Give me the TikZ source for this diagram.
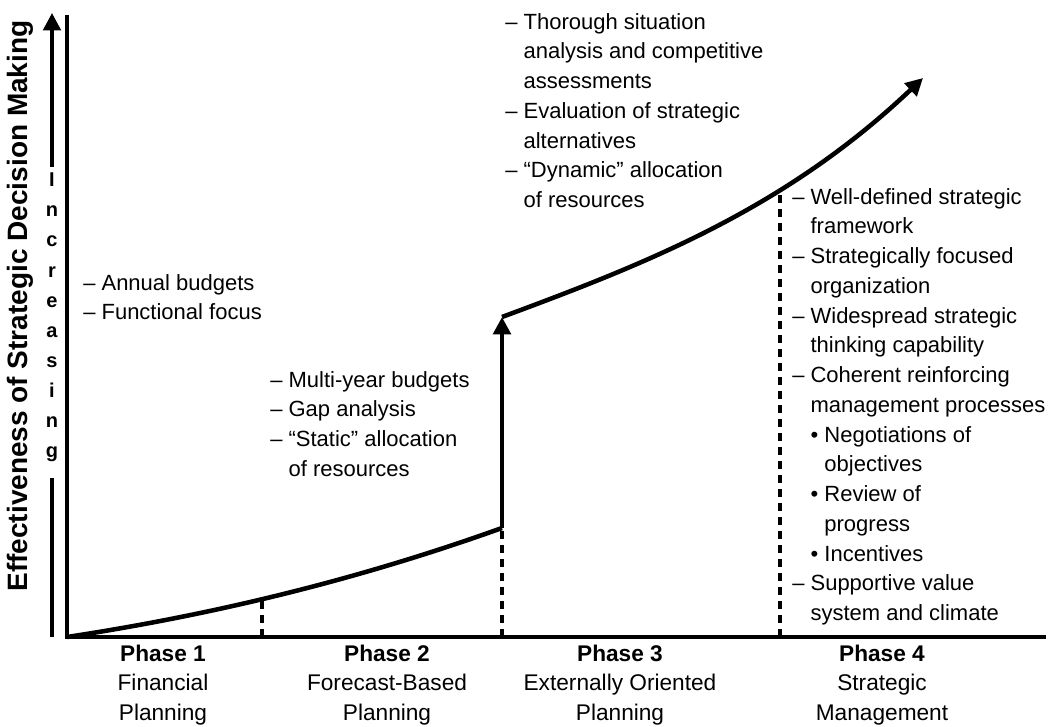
\documentclass[tikz,border=0pt]{standalone}
\usepackage{fontspec}
\setmainfont{Liberation Sans}
\usetikzlibrary{arrows.meta}
\tikzset{
  axis/.style={line width=2.8pt},
  growth/.style={line width=3.4pt},
  phaseline/.style={line width=2.5pt, dash pattern=on 6pt off 4.5pt},
  items/.style={anchor=north west, inner sep=0pt, align=left, font=\fontsize{16.5}{22.3}\selectfont},
  phase/.style={align=center, inner sep=0pt, font=\fontsize{17}{22.3}\selectfont},
  incr/.style={anchor=base, inner sep=0pt, font=\fontsize{15}{15}\selectfont\bfseries},
  bigtip/.style={-{Triangle[width=13pt,length=13pt]}},
}
\begin{document}
\begin{tikzpicture}[x=0.75pt,y=-0.75pt]
    \useasboundingbox (0,0) rectangle (1049,727);
    % axes
    \coordinate (o) at (67,637);
    \coordinate (ytop) at (67,15);
    \coordinate (xend) at (1046,637);
    \draw[axis] (ytop) -- (o) -- (xend);
    % growth curves
    \coordinate (c1end) at (502,528);
    \coordinate (c2start) at (502,317);
    \coordinate (c2tip) at (923,78);
    \draw[growth] (o) .. controls (212,615) and (357,580) .. (c1end);
    \draw[growth,bigtip] (c1end) -- (c2start);
    \draw[growth,bigtip] (c2start) .. controls (642,265) and (783,211) .. (c2tip);
    % phase borders
    \coordinate (d1bot) at (262,637);
    \coordinate (d1top) at (262,599);
    \coordinate (d2bot) at (502,637);
    \coordinate (d3bot) at (780,637);
    \coordinate (d3top) at (780,189);
    \draw[phaseline] (d1bot) -- (d1top);
    \draw[phaseline] (d2bot) -- (c1end);
    \draw[phaseline] (d3bot) -- (d3top);
    % y axis label
    \node[rotate=90, inner sep=0pt, font=\fontsize{21}{21}\selectfont\bfseries] (ylabel) at (20,306) {Effectiveness of Strategic Decision Making};
    \coordinate (incbot) at (52,637);
    \coordinate (incmid) at (52,478);
    \coordinate (incup) at (52,167);
    \coordinate (inctip) at (52,13);
    \draw[axis] (incbot) -- (incmid);
    \draw[axis,bigtip] (incup) -- (inctip);
    \foreach \l [count=\i] in {I,n,c,r,e,a,s,i,n,g}
        \node[incr] (inc\i) at (52,157+30*\i) {\l};
    % phase texts
    \node[items] (p1text) at (83,274) {– Annual budgets\\– Functional focus};
    \node[items] (p2text) at (270,371) {– Multi-year budgets\\– Gap analysis\\– “Static” allocation\\\phantom{– }of resources};
    \node[items] (p3text) at (505,13) {– Thorough situation\\\phantom{– }analysis and competitive\\\phantom{– }assessments\\– Evaluation of strategic\\\phantom{– }alternatives\\– “Dynamic” allocation\\\phantom{– }of resources};
    \node[items] (p4text) at (792,188) {– Well-defined strategic\\\phantom{– }framework\\– Strategically focused\\\phantom{– }organization\\– Widespread strategic\\\phantom{– }thinking capability\\– Coherent reinforcing\\\phantom{– }management processes\\\phantom{– }• Negotiations of\\\phantom{– • }objectives\\\phantom{– }• Review of\\\phantom{– • }progress\\\phantom{– }• Incentives\\– Supportive value\\\phantom{– }system and climate};
    % phase labels
    \node[phase] (ph1) at (163,685) {\textbf{Phase 1}\\Financial\\Planning};
    \node[phase] (ph2) at (387,685) {\textbf{Phase 2}\\Forecast-Based\\Planning};
    \node[phase] (ph3) at (620,685) {\textbf{Phase 3}\\Externally Oriented\\Planning};
    \node[phase] (ph4) at (882,685) {\textbf{Phase 4}\\Strategic\\Management};
\end{tikzpicture}
\end{document}
